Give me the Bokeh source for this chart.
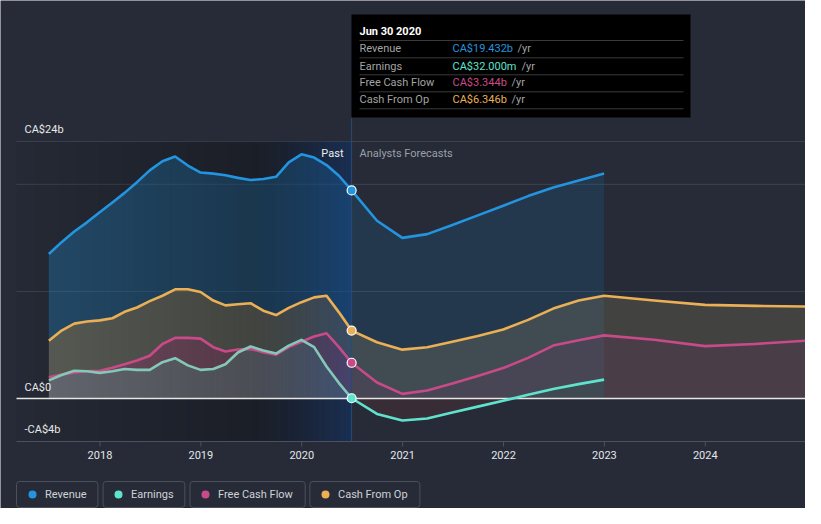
import numpy as np
import pandas as pd
from bokeh.plotting import figure
from bokeh.models import Range1d
from bokeh.core.properties import value
from bokeh.embed import file_html
from bokeh.resources import INLINE

# ------------------------------------------------------------------ data (CA$ billions)
series_names = ["Revenue", "Earnings", "Free Cash Flow", "Cash From Op"]

past_dates = ["2017-06-30", "2017-08-15", "2017-09-30", "2017-11-15", "2017-12-31",
              "2018-02-15", "2018-03-31", "2018-05-15", "2018-06-30", "2018-08-15",
              "2018-09-30", "2018-11-15", "2018-12-31", "2019-02-15", "2019-03-31",
              "2019-05-15", "2019-06-30", "2019-08-15", "2019-09-30", "2019-11-15",
              "2019-12-31", "2020-02-15", "2020-03-31", "2020-05-15", "2020-06-30"]
revenue_past = [13.5, 14.6, 15.6, 16.45, 17.4, 18.3, 19.2, 20.2, 21.3, 22.15, 22.6, 21.75,
                21.1, 21.0, 20.85, 20.6, 20.4, 20.5, 20.7, 22.05, 22.8, 22.5, 21.8, 20.8, 19.432]
earnings_past = [1.7, 2.2, 2.6, 2.55, 2.4, 2.55, 2.77, 2.68, 2.68, 3.4, 3.77, 3.1,
                 2.68, 2.77, 3.2, 4.3, 4.86, 4.5, 4.2, 4.95, 5.48, 4.8, 3.0, 1.45, 0.032]
fcf_past = [2.0, 2.24, 2.45, 2.55, 2.6, 2.87, 3.2, 3.55, 4.0, 5.1, 5.67, 5.67,
            5.6, 4.8, 4.4, 4.58, 4.64, 4.33, 4.1, 4.8, 5.3, 5.8, 6.1, 4.8, 3.344]
cfo_past = [5.4, 6.35, 7.0, 7.2, 7.3, 7.5, 8.1, 8.5, 9.1, 9.6, 10.2, 10.2,
            9.95, 9.15, 8.7, 8.8, 8.9, 8.2, 7.8, 8.47, 9.0, 9.45, 9.6, 8.05, 6.346]

fc_dates_short = ["2020-06-30", "2020-09-30", "2020-12-31", "2021-03-31", "2021-06-30",
                  "2021-09-30", "2021-12-31", "2022-03-31", "2022-06-30", "2022-09-30",
                  "2022-12-31"]
fc_dates_long = fc_dates_short + ["2023-06-30", "2023-12-31", "2024-06-30", "2024-12-31"]
revenue_fc = [19.432, 16.6, 15.0, 15.35, 16.2, 17.1, 18.0, 18.9, 19.7, 20.35, 21.0]
earnings_fc = [0.032, -1.43, -2.05, -1.85, -1.3, -0.75, -0.2, 0.35, 0.9, 1.35, 1.77]
fcf_fc = [3.344, 1.5, 0.44, 0.75, 1.4, 2.1, 2.85, 3.8, 4.95, 5.45, 5.9, 5.5, 4.9, 5.1, 5.4]
cfo_fc = [6.346, 5.26, 4.57, 4.8, 5.3, 5.85, 6.45, 7.35, 8.4, 9.15, 9.6, 9.15, 8.75, 8.65, 8.6]

tick_years = [2018, 2019, 2020, 2021, 2022, 2023, 2024]
tick_labels = ["2018", "2019", "2020", "2021", "2022", "2023", "2024"]
y_label_values = [24, 0, -4]
y_label_texts = ["CA$24b", "CA$0", "-CA$4b"]
grid_values = [10, 20, 24]
highlight_start = "2019-06-30"
tooltip_title = "Jun 30 2020"

# ------------------------------------------------------------------ style / layout
BG = "#262b37"
FONT = value("Roboto")
C_REV, C_EARN, C_FCF, C_CFO = "#2394df", "#5fe3cd", "#c94a89", "#ebaf55"
C_EARN_PAST = "#84c9b8"
series_colors = [C_REV, C_EARN, C_FCF, C_CFO]

# everything below is placed in reference-picture pixels
PAGE_OX, PAGE_OY = 0, 0
FIG_W, FIG_H = 805, 508
FRAME_L, FRAME_R, FRAME_T, FRAME_B = 16, 805, 14, 441
X_2018, PX_PER_YEAR = 99.48, 100.88
Y_ZERO, PX_PER_B = 398.1, 300 / 28


def px_x(px):
    return 2018 + (px - X_2018) / PX_PER_YEAR


def px_y(py):
    return (Y_ZERO - py) / PX_PER_B


def dec_year(s):
    ts = pd.Timestamp(s)
    a = pd.Timestamp(year=ts.year, month=1, day=1)
    b = pd.Timestamp(year=ts.year + 1, month=1, day=1)
    return ts.year + (ts - a) / (b - a)


xp = np.array([dec_year(d) for d in past_dates])
xs = np.array([dec_year(d) for d in fc_dates_short])
xl = np.array([dec_year(d) for d in fc_dates_long])
x_div = dec_year(past_dates[-1])
x_hl = dec_year(highlight_start)

XL, XR = px_x(FRAME_L), px_x(FRAME_R)
YB = px_y(FRAME_B)

p = figure(width=FIG_W, height=FIG_H, output_backend="svg", toolbar_location=None,
           x_range=Range1d(px_x(PAGE_OX), px_x(PAGE_OX + FIG_W)),
           y_range=Range1d(px_y(PAGE_OY + FIG_H), px_y(PAGE_OY)),
           min_border=0, x_axis_location=None, y_axis_location=None)
p.background_fill_color = BG
p.border_fill_color = BG
p.outline_line_color = None
p.grid.visible = False

# grid lines
p.segment(x0=XL, x1=XR, y0=grid_values, y1=grid_values, line_color="#3d4350", line_width=1)

# ---- past fills
p.varea(x=xp, y1=0, y2=revenue_past, fill_color=C_REV, fill_alpha=0.33)
p.varea(x=xp, y1=0, y2=cfo_past, fill_color="#de8c28", fill_alpha=0.3)
p.varea(x=xp, y1=0, y2=fcf_past, fill_color="#ae2b82", fill_alpha=0.3)
p.varea(x=xp, y1=0, y2=earnings_past, fill_color="#4eb1a0", fill_alpha=0.3)

# ---- forecast fills
ef = np.array(earnings_fc)
p.varea(x=xs, y1=0, y2=revenue_fc, fill_color="#1c6ca5", fill_alpha=0.2)
p.varea(x=xl, y1=0, y2=cfo_fc, fill_color="#b29e64", fill_alpha=0.2)
p.varea(x=xl, y1=0, y2=fcf_fc, fill_color="#6a2e68", fill_alpha=0.2)
p.varea(x=xs, y1=0, y2=np.maximum(ef, 0), fill_color="#185942", fill_alpha=0.2)
p.varea(x=xs, y1=0, y2=np.minimum(ef, 0), fill_color="#803032", fill_alpha=0.2)

# ---- shading overlays (dark past region, blue last-year region)
n1 = 40
e1 = np.linspace(XL, x_hl, n1 + 1)
a1 = np.linspace(0.03, 0.28, n1)
p.quad(left=e1[:-1], right=e1[1:], bottom=YB, top=grid_values[-1],
       fill_color="black", fill_alpha=a1, line_color=None)
n2 = 30
e2 = np.linspace(x_hl, x_div, n2 + 1)
t = np.linspace(0, 1, n2)
cols2 = ["#%02x%02x%02x" % (int(12 * k), int(52 * k), int(118 * k)) for k in t]
a2 = 0.28 + 0.17 * t
p.quad(left=e2[:-1], right=e2[1:], bottom=YB, top=grid_values[-1],
       fill_color=cols2, fill_alpha=a2, line_color=None)

# zero line and divider
p.segment(x0=XL, x1=XR, y0=0, y1=0, line_color="#e6e6e6", line_width=1.5)
p.segment(x0=x_div, x1=x_div, y0=YB, y1=px_y(117), line_color="#2c4b74", line_width=1)

# ---- x axis (drawn)
p.segment(x0=XL, x1=XR, y0=YB, y1=YB, line_color="#4b5160", line_width=1)
p.segment(x0=tick_years, x1=tick_years, y0=YB, y1=px_y(FRAME_B + 5),
          line_color="#4b5160", line_width=1)
p.text(x=tick_years, y=px_y(454), text=tick_labels, text_font=FONT, text_font_size="11px",
       text_color="#e4e6ea", text_align="center", text_baseline="middle")

# ---- lines
lw = 2.6
p.line(xp, revenue_past, line_color=C_REV, line_width=lw, line_join="round")
p.line(xp, cfo_past, line_color=C_CFO, line_width=lw, line_join="round")
p.line(xp, fcf_past, line_color=C_FCF, line_width=lw, line_join="round")
p.line(xp, earnings_past, line_color=C_EARN_PAST, line_width=lw, line_join="round")
p.line(xs, revenue_fc, line_color=C_REV, line_width=lw, line_join="round")
p.line(xl, cfo_fc, line_color=C_CFO, line_width=lw, line_join="round")
p.line(xl, fcf_fc, line_color=C_FCF, line_width=lw, line_join="round")
p.line(xs, earnings_fc, line_color=C_EARN, line_width=lw, line_join="round")

last_vals = [revenue_past[-1], earnings_past[-1], fcf_past[-1], cfo_past[-1]]
p.scatter(x=[x_div] * 4, y=last_vals, size=9, fill_color=series_colors,
          line_color="white", line_width=1.2)

# ---- y labels
p.text(x=[px_x(24)] * 3, y=[v + 11.5 / PX_PER_B for v in y_label_values], text=y_label_texts,
       text_font=FONT, text_font_size="11px", text_color="#e8e8e8",
       text_baseline="middle", text_align="left")

# ---- past / forecast labels
p.text(x=[px_x(343)], y=[px_y(153)], text=["Past"], text_font=FONT, text_font_size="11px",
       text_color="#eeeeee", text_baseline="middle", text_align="right")
p.text(x=[px_x(359)], y=[px_y(153)], text=["Analysts Forecasts"], text_font=FONT,
       text_font_size="11px", text_color="#9aa0a8", text_baseline="middle", text_align="left")

# ---- tooltip
p.quad(left=px_x(351), right=px_x(690), top=px_y(14), bottom=px_y(117), fill_color="black",
       line_color=None)
p.text(x=[px_x(359)], y=[px_y(30.7)], text=[tooltip_title], text_font=FONT,
       text_font_size="11px", text_font_style="bold", text_color="white",
       text_baseline="middle")
sep_y = [40, 57.3, 74.3, 91.3, 108.3]
p.segment(x0=px_x(359), x1=px_x(683), y0=[px_y(v) for v in sep_y],
          y1=[px_y(v) for v in sep_y], line_color="#3a3a3a", line_width=1)


def fmt(v):
    return "CA$%.3fm" % (v * 1000) if abs(v) < 1 else "CA$%.3fb" % v


row_y = [48.3, 65.7, 82.3, 99.3]
yr_x = [517, 521, 511, 511]
p.text(x=[px_x(359)] * 4, y=[px_y(v) for v in row_y], text=series_names, text_font=FONT,
       text_font_size="11px", text_color="#a3a3a3", text_baseline="middle")
p.text(x=[px_x(452)] * 4, y=[px_y(v) for v in row_y], text=[fmt(v) for v in last_vals],
       text_font=FONT, text_font_size="11px", text_color=series_colors, text_baseline="middle")
p.text(x=[px_x(v) for v in yr_x], y=[px_y(v) for v in row_y], text=["/yr"] * 4,
       text_font=FONT, text_font_size="11px", text_color="#a3a3a3", text_baseline="middle")

# ---- legend
box_l = [16, 102.6, 189.5, 309.4]
box_r = [97.4, 184.3, 304.7, 419.4]
dot_x = [32, 118, 205, 325]
p.quad(left=[px_x(v) for v in box_l], right=[px_x(v) for v in box_r], top=px_y(481),
       bottom=px_y(507), fill_color=None, line_color="#4a505c", line_width=1,
       border_radius=3)
p.scatter(x=[px_x(v) for v in dot_x], y=px_y(494), size=8, fill_color=series_colors,
          line_color=None)
p.text(x=[px_x(v + 12.5) for v in dot_x], y=px_y(494), text=series_names, text_font=FONT,
       text_font_size="11px", text_color="#cfd3d8", text_baseline="middle")

open("out.html", "w").write(file_html(p, INLINE))
